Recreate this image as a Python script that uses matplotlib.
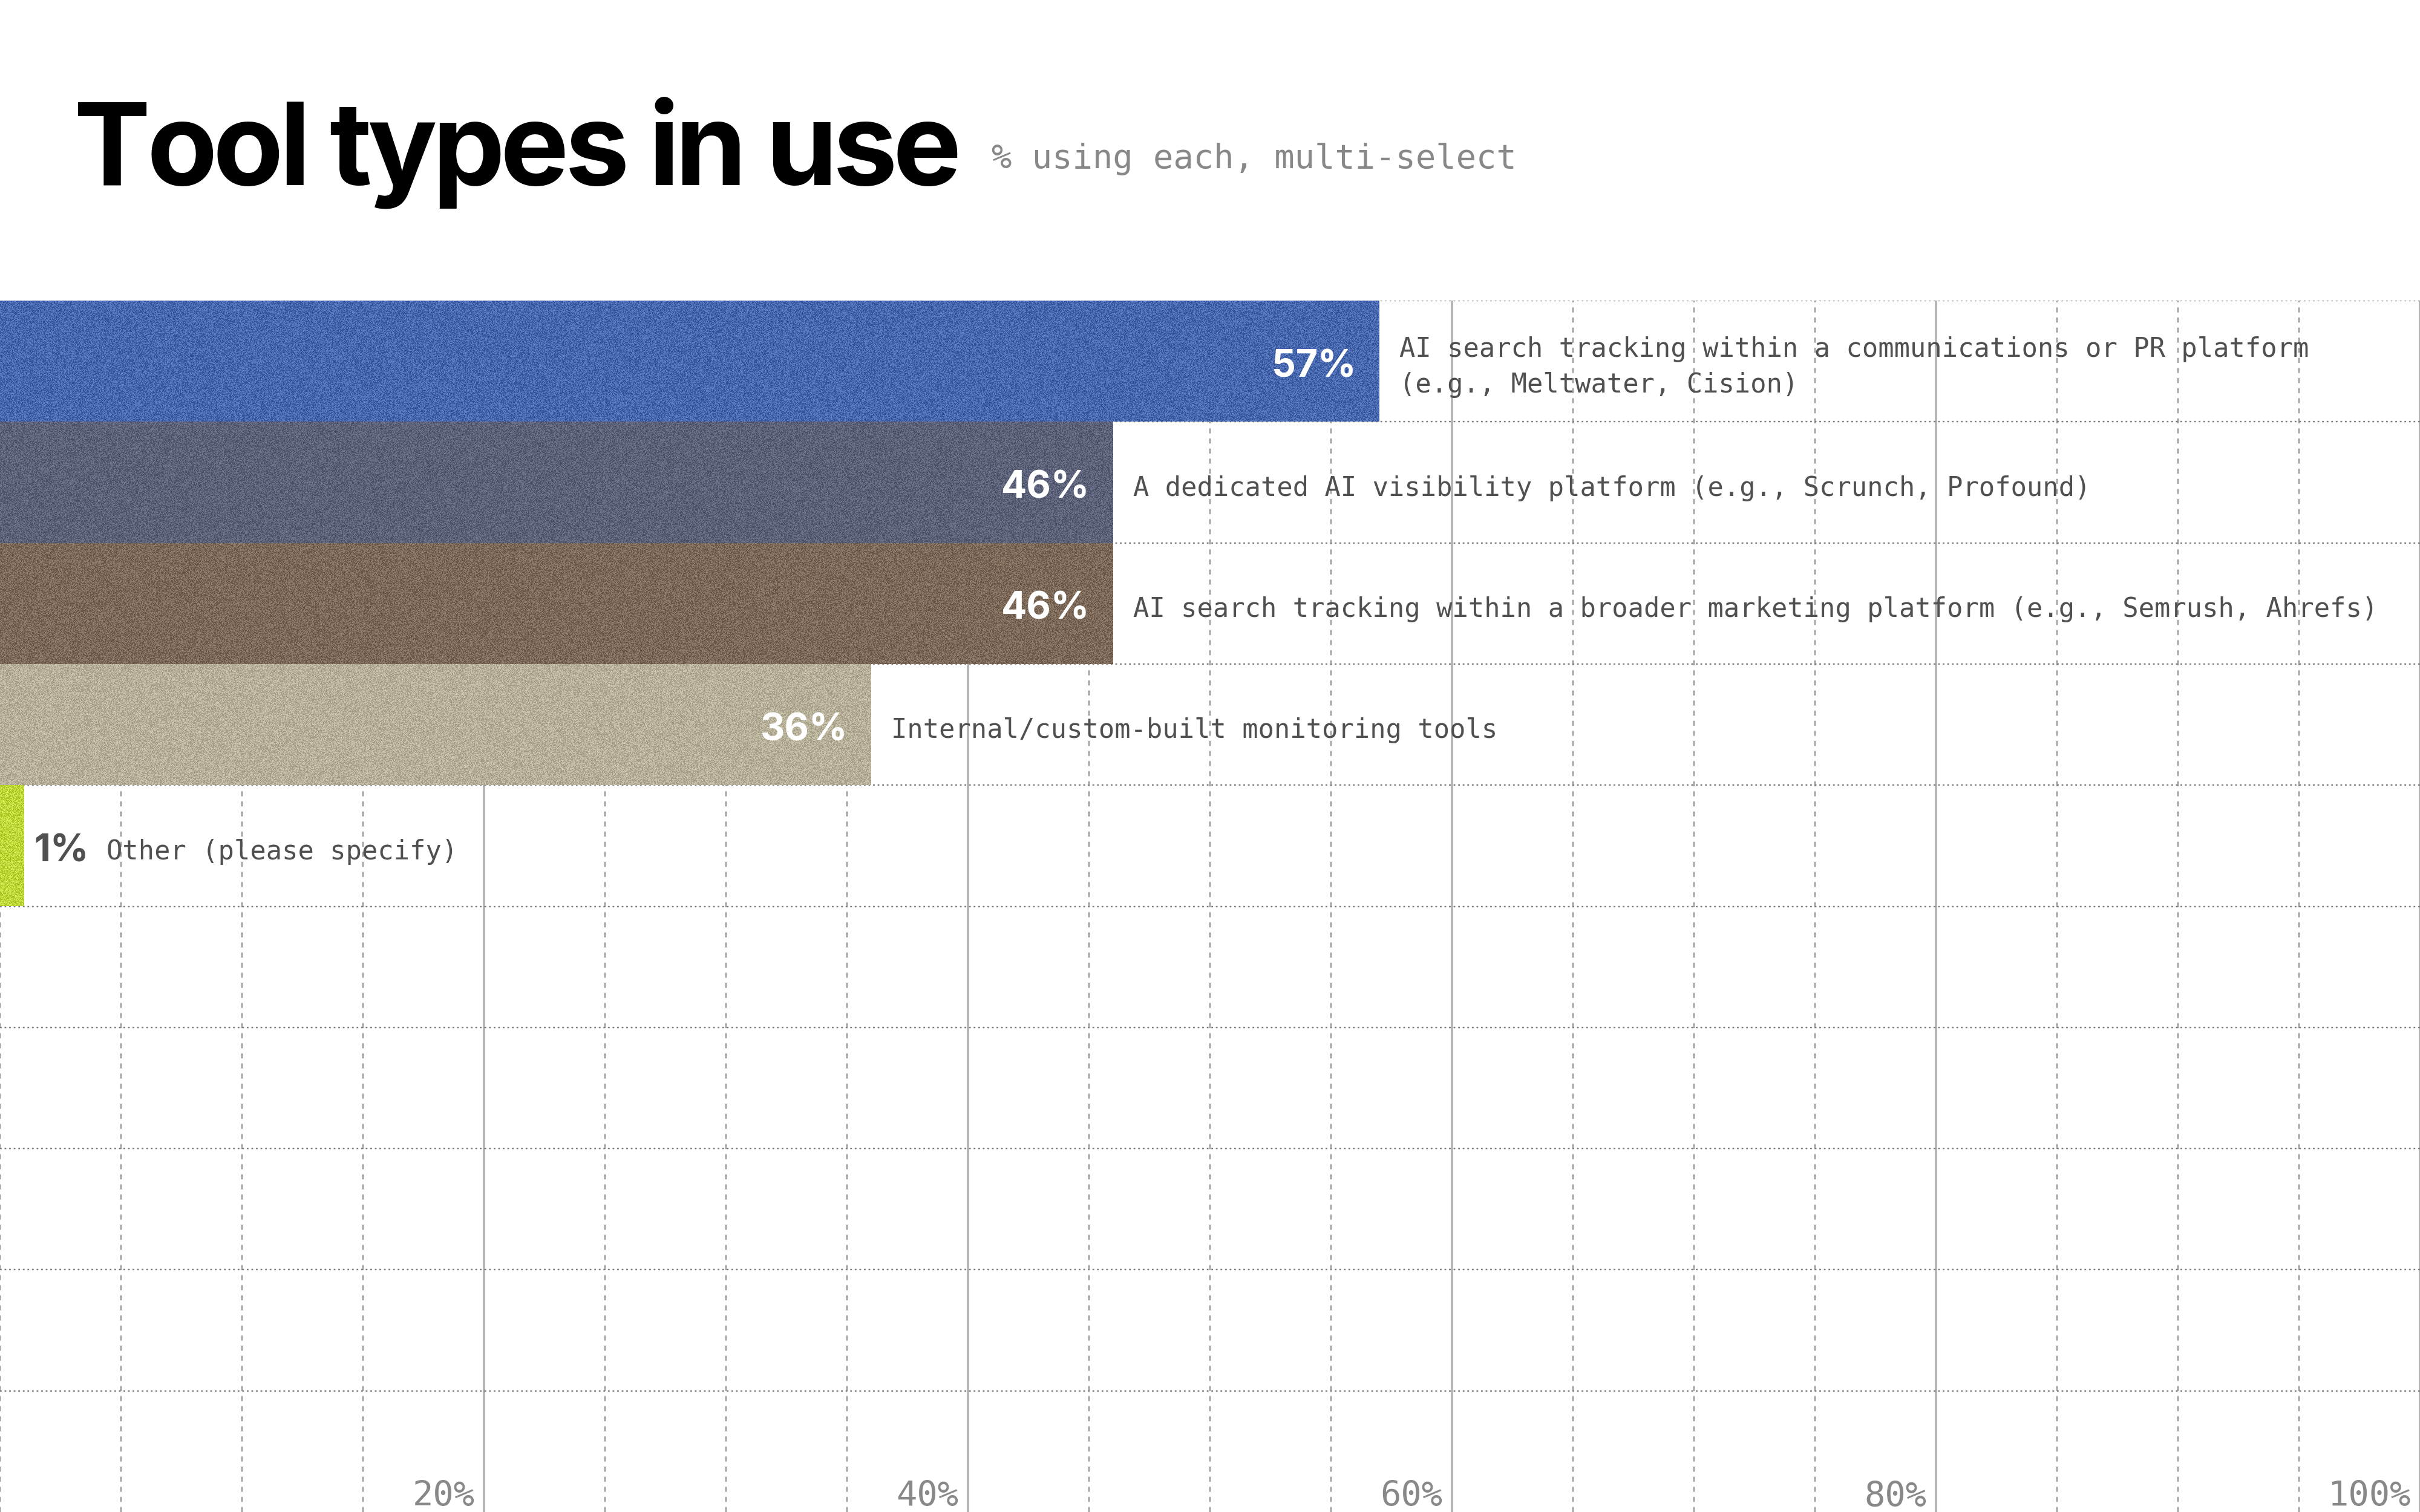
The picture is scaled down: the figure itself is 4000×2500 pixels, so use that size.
import numpy as np
import matplotlib
matplotlib.use("Agg")
from matplotlib import pyplot as plt
from matplotlib.ticker import MultipleLocator, FixedLocator

# data
categories = [
    "AI search tracking within a communications or PR platform\n(e.g., Meltwater, Cision)",
    "A dedicated AI visibility platform (e.g., Scrunch, Profound)",
    "AI search tracking within a broader marketing platform (e.g., Semrush, Ahrefs)",
    "Internal/custom-built monitoring tools",
    "Other (please specify)",
]
values = [57, 46, 46, 36, 1]
tickValues = [20, 40, 60, 80, 100]
tickLabels = ["20%", "40%", "60%", "80%", "100%"]

# two-tone grain for each bar: (dark, light)
barColors = [
    ("#33549a", "#5a7bc1"),
    ("#4b5168", "#6c728a"),
    ("#6a5646", "#8f7b6a"),
    ("#a59e86", "#c9c2aa"),
    ("#a9c322", "#d3eb4e"),
]

MONO = "DejaVu Sans Mono"
SANS = "Inter"
GRID = "#7c7c7c"
LABEL = "#505050"

W, H, DPI = 4000, 2500, 100
N_ROWS = 10
TOP_PX = 497
DY = -7  # nudge labels down (points)

fig = plt.figure(figsize=(W / DPI, H / DPI), dpi=DPI, facecolor="white")
ax = fig.add_axes([0, 0, 1, 1 - TOP_PX / H])
ax.set_xlim(0, 100)
ax.set_ylim(N_ROWS - 0.5, -0.5)
for s in ax.spines.values():
    s.set_visible(False)

# grid: solid every 20, dashed every 5, dotted row separators
ax.xaxis.set_major_locator(FixedLocator(tickValues))
ax.xaxis.set_minor_locator(MultipleLocator(5))
ax.yaxis.set_major_locator(FixedLocator(np.arange(N_ROWS) - 0.5))
ax.set_axisbelow(True)
ax.xaxis.grid(True, which="major", color="#8a8a8a", lw=1.3, ls="-")
ax.xaxis.grid(True, which="minor", color=GRID, lw=1.2, ls=(0, (5, 5)))
ax.yaxis.grid(True, which="major", color=GRID, lw=1.7, ls=(0, (1.2, 2.0)))
ax.tick_params(which="both", length=0, labelbottom=False, labelleft=False)

rows = np.arange(len(values))
bars = ax.barh(rows, values, height=1.0, color=[c[0] for c in barColors],
               linewidth=0, zorder=2)

# grain texture clipped to each bar
rng = np.random.default_rng(3)
rowPx = (H - TOP_PX) / N_ROWS
for bar, (dark, light) in zip(bars, barColors):
    w = max(int(round(bar.get_width() / 100 * W)), 1)
    h = int(round(rowPx))
    d = np.array(matplotlib.colors.to_rgb(dark))
    l = np.array(matplotlib.colors.to_rgb(light))
    mask = rng.random((h, w)) < 0.5
    img = np.where(mask[..., None], d, l)
    y0 = bar.get_y()
    im = ax.imshow(img, extent=(0, bar.get_width(), y0 + bar.get_height(), y0),
                   aspect="auto", interpolation="nearest", zorder=2.5)
    im.set_clip_path(bar)

ax.set_xlim(0, 100)
ax.set_ylim(N_ROWS - 0.5, -0.5)

# value + category labels
for i, (v, cat) in enumerate(zip(values, categories)):
    inside = v >= 5
    if inside:
        ax.annotate(f"{v}%", xy=(v, i), xytext=(-28, DY), textcoords="offset points",
                    ha="right", va="center", color="white", fontsize=45,
                    fontfamily=SANS, fontweight="bold", zorder=4)
        ax.annotate(cat, xy=(v, i), xytext=(24, DY), textcoords="offset points",
                    ha="left", va="center", color=LABEL, fontsize=31.5,
                    fontfamily=MONO, linespacing=1.45, zorder=4)
    else:
        vt = ax.annotate(f"{v}%", xy=(v, i), xytext=(11.5, DY), textcoords="offset points",
                         ha="left", va="center", color=LABEL, fontsize=45,
                         fontfamily=SANS, fontweight="bold", zorder=4)
        ax.annotate(cat, xy=(1, 0.5), xycoords=vt, xytext=(21, 0),
                    textcoords="offset points", ha="left", va="center",
                    color=LABEL, fontsize=31.5, fontfamily=MONO, zorder=4)

# x tick labels, right-aligned against their gridline at the bottom
for t, lab in zip(tickValues, tickLabels):
    ax.annotate(lab, xy=(t, 0), xycoords=ax.get_xaxis_transform(),
                xytext=(-11, 7), textcoords="offset points",
                ha="right", va="baseline", color="#888888", fontsize=41,
                fontfamily=MONO, zorder=4)

# title with tight tracking (drawn glyph by glyph), then subtitle
titleText = "Tool types in use"
titleProps = dict(fontfamily=SANS, fontweight="bold", fontsize=137, color="black",
                  va="baseline")
x0, yb = 122, 1 - 306 / H
track = 7.0  # px removed per glyph
renderer = fig.canvas.get_renderer()
probe = fig.text(0, 0, "", **titleProps)
for k, ch in enumerate(titleText):
    probe.set_text(titleText[:k])
    wPrefix = probe.get_window_extent(renderer).width if k else 0
    xk = x0 + wPrefix - k * track
    fig.text(xk / W, yb, ch, **titleProps)
probe.set_text(titleText)
xEnd = x0 + probe.get_window_extent(renderer).width - (len(titleText) - 1) * track
probe.remove()

fig.text((xEnd + 50) / W, 1 - 278 / H, "% using each, multi-select",
         fontfamily=MONO, fontsize=40, color="#888888", va="baseline")

fig.savefig("out.png", dpi=DPI, facecolor="white")
